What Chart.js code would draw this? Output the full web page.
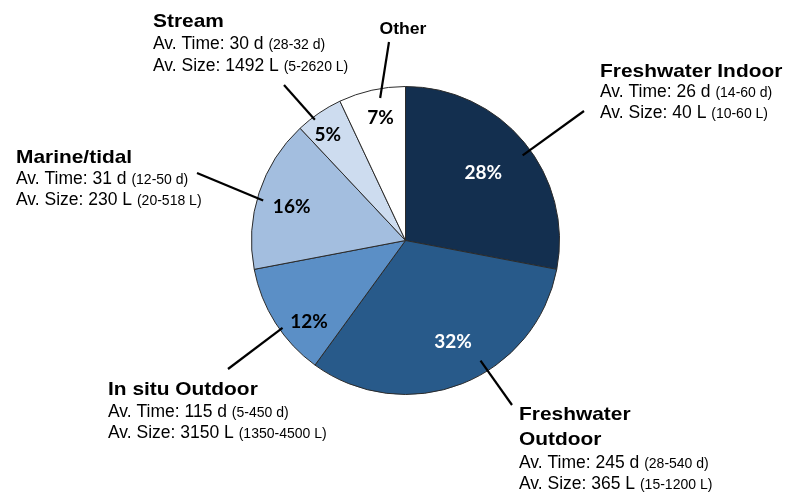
<!DOCTYPE html>
<html>
<head>
<meta charset="utf-8">
<script src="https://cdn.jsdelivr.net/npm/chart.js@4"></script>
<style>
  body { margin: 0; background: #fff; }
  #wrap { width: 789px; height: 492px; }
</style>
</head>
<body>
<div id="wrap"><canvas id="pie" width="789" height="492"></canvas></div>
<script>
// data
const categories = ["Freshwater Indoor", "Freshwater Outdoor", "In situ Outdoor", "Marine/tidal", "Stream", "Other"];
const shares = [28, 32, 12, 16, 5, 7];
const avTime = ["26 d", "245 d", "115 d", "31 d", "30 d", null];
const rangeTime = ["(14-60 d)", "(28-540 d)", "(5-450 d)", "(12-50 d)", "(28-32 d)", null];
const avSize = ["40 L", "365 L", "3150 L", "230 L", "1492 L", null];
const rangeSize = ["(10-60 L)", "(15-1200 L)", "(1350-4500 L)", "(20-518 L)", "(5-2620 L)", null];

const colors = ["#132f4f", "#285a8a", "#5b8fc6", "#a3bedf", "#cddcef", "#ffffff"];
const pctColors = ["#fff", "#fff", "#000", "#000", "#000", "#000"];

// where each % label sits inside its slice (fraction of slice angle, fraction of radius)
const pctPos = [[0.485, 0.67], [0.47, 0.73], [0.32, 0.82], [0.47, 0.77], [0.38, 0.85], [0.54, 0.81]];

// callout layout: leader line inner end on the slice, outer end, text block
const callouts = [
  { at: [0.536, 0.94], end: [584, 111], x: 600, y: [77, 97, 118], title: ["Freshwater Indoor"] },
  { at: [0.41, 0.92], end: [512, 405], x: 519, y: [420, 445, 468, 489], title: ["Freshwater", "Outdoor"] },
  { at: [0.43, 0.98], end: [228, 369], x: 108, y: [395, 417, 438], title: ["In situ Outdoor"] },
  { at: [0.46, 0.96], end: [197, 173], x: 16, y: [163, 184, 205], title: ["Marine/tidal"] },
  { at: [0.35, 0.98], end: [284, 85], x: 153, y: [27, 49, 71], title: ["Stream"] },
  { at: [0.6, 0.94], end: [389, 42], x: 403, y: [34], title: ["Other"], small: true }
];

function slicePoint(arc, fa, fr) {
  const a = arc.startAngle + (arc.endAngle - arc.startAngle) * fa;
  const r = arc.outerRadius * fr;
  return [arc.x + Math.cos(a) * r, arc.y + Math.sin(a) * r];
}

function boldText(ctx, txt, x, y, size, center) {
  ctx.save();
  ctx.font = "bold " + size + "px 'Liberation Sans', Arial, sans-serif";
  ctx.translate(x, y);
  ctx.scale(1.1, 1);
  ctx.textAlign = center ? "center" : "left";
  ctx.fillText(txt, 0, 0);
  ctx.restore();
}

function mixedLine(ctx, main, small, x, y) {
  ctx.font = "17.5px 'Liberation Sans', Arial, sans-serif";
  ctx.textAlign = "left";
  ctx.fillText(main, x, y);
  const w = ctx.measureText(main + " ").width;
  ctx.font = "14px 'Liberation Sans', Arial, sans-serif";
  ctx.fillText(small, x + w, y);
}

const labelsPlugin = {
  id: "labels",
  afterDatasetsDraw(chart) {
    const ctx = chart.ctx;
    const arcs = chart.getDatasetMeta(0).data;
    ctx.save();

    // percentages
    arcs.forEach((arc, i) => {
      const p = slicePoint(arc, pctPos[i][0], pctPos[i][1]);
      ctx.fillStyle = pctColors[i];
      ctx.font = "bold 19px Lato, 'Open Sans', sans-serif";
      ctx.textAlign = "center";
      ctx.textBaseline = "middle";
      ctx.fillText(shares[i] + "%", p[0], p[1]);
    });

    // callouts
    ctx.textBaseline = "alphabetic";
    ctx.fillStyle = "#000";
    ctx.strokeStyle = "#000";
    ctx.lineWidth = 2.2;
    callouts.forEach((c, i) => {
      const p = slicePoint(arcs[i], c.at[0], c.at[1]);
      ctx.beginPath();
      ctx.moveTo(p[0], p[1]);
      ctx.lineTo(c.end[0], c.end[1]);
      ctx.stroke();

      if (c.small) {
        boldText(ctx, c.title[0], c.x, c.y[0], 16, true);
        return;
      }
      c.title.forEach((t, k) => boldText(ctx, t, c.x, c.y[k], 19, false));
      const n = c.title.length;
      mixedLine(ctx, "Av. Time: " + avTime[i], rangeTime[i], c.x, c.y[n]);
      mixedLine(ctx, "Av. Size: " + avSize[i], rangeSize[i], c.x, c.y[n + 1]);
    });
    ctx.restore();
  }
};

new Chart(document.getElementById("pie"), {
  type: "pie",
  data: {
    labels: categories,
    datasets: [{
      data: shares,
      backgroundColor: colors,
      borderColor: "#2b2b2b",
      borderWidth: 1
    }]
  },
  options: {
    responsive: false,
    animation: false,
    layout: { padding: { left: 251, right: 229, top: 86, bottom: 97 } },
    plugins: {
      legend: { display: false },
      tooltip: { enabled: false }
    }
  },
  plugins: [labelsPlugin]
});
</script>
</body>
</html>
